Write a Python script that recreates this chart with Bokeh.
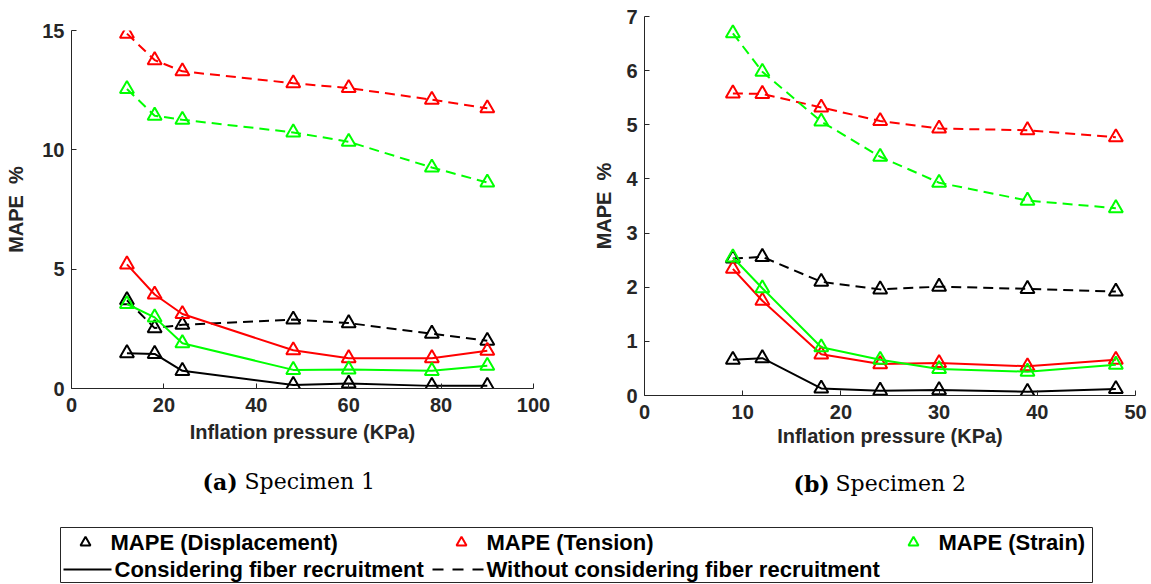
from bokeh.plotting import figure
from bokeh.layouts import column, row
from bokeh.models import FixedTicker
from bokeh.core.properties import value
from bokeh.embed import file_html
from bokeh.resources import INLINE

# ---- Specimen 1 ----
s1_pressure = [12, 18, 24, 48, 60, 78, 90]
s1_disp_fiber = [1.48, 1.45, 0.74, 0.15, 0.21, 0.11, 0.11]
s1_disp_nofiber = [3.70, 2.53, 2.67, 2.89, 2.74, 2.30, 2.00]
s1_tension_fiber = [5.20, 3.94, 3.12, 1.60, 1.27, 1.27, 1.58]
s1_tension_nofiber = [14.87, 13.76, 13.29, 12.79, 12.59, 12.10, 11.74]
s1_strain_fiber = [3.54, 2.98, 1.90, 0.78, 0.80, 0.74, 0.95]
s1_strain_nofiber = [12.55, 11.43, 11.26, 10.73, 10.34, 9.26, 8.63]

# ---- Specimen 2 ----
s2_pressure = [9, 12, 18, 24, 30, 39, 48]
s2_disp_fiber = [0.66, 0.69, 0.13, 0.09, 0.10, 0.07, 0.12]
s2_disp_nofiber = [2.53, 2.56, 2.10, 1.96, 2.01, 1.97, 1.92]
s2_tension_fiber = [2.34, 1.75, 0.76, 0.58, 0.60, 0.54, 0.66]
s2_tension_nofiber = [5.58, 5.57, 5.32, 5.07, 4.93, 4.90, 4.77]
s2_strain_fiber = [2.55, 1.98, 0.89, 0.66, 0.49, 0.44, 0.57]
s2_strain_nofiber = [6.69, 5.98, 5.06, 4.41, 3.93, 3.60, 3.46]

s1_xticks = [0, 20, 40, 60, 80, 100]
s1_yticks = [0, 5, 10, 15]
s2_xticks = [0, 10, 20, 30, 40, 50]
s2_yticks = [0, 1, 2, 3, 4, 5, 6, 7]

quantity_names = ["MAPE (Displacement)", "MAPE (Tension)", "MAPE (Strain)"]
quantity_colors = ["#000000", "#ff0000", "#00ff00"]
model_names = ["Considering fiber recruitment", "Without considering fiber recruitment"]
model_dashes = ["solid", "10 6"]

captions = [("(a)", "Specimen 1"), ("(b)", "Specimen 2")]

SANS = "Liberation Sans"
AXIS_COLOR = "#262626"


def panel(x, curves, x_end, y_end, xticks, yticks, width, height,
          b_left, b_right, b_top, b_bottom, ylab_standoff, xlab_standoff):
    p = figure(width=width, height=height, x_range=(0, x_end), y_range=(0, y_end),
               output_backend="svg", toolbar_location=None,
               min_border_left=b_left, min_border_right=b_right,
               min_border_top=b_top, min_border_bottom=b_bottom)
    p.outline_line_color = None
    p.grid.visible = False
    p.background_fill_color = "white"
    p.border_fill_color = "white"
    for ax in (p.xaxis[0], p.yaxis[0]):
        ax.major_tick_in = 5
        ax.major_tick_out = 0
        ax.minor_tick_in = 0
        ax.minor_tick_out = 0
        ax.axis_line_color = AXIS_COLOR
        ax.major_tick_line_color = AXIS_COLOR
        ax.major_label_text_color = AXIS_COLOR
        ax.major_label_text_font = SANS
        ax.major_label_text_font_style = "bold"
        ax.major_label_text_font_size = "20px"
        ax.axis_label_text_font = SANS
        ax.axis_label_text_font_style = "bold"
        ax.axis_label_text_color = AXIS_COLOR
    p.xaxis.ticker = FixedTicker(ticks=xticks)
    p.yaxis.ticker = FixedTicker(ticks=yticks)
    p.xaxis.major_label_standoff = 9
    p.yaxis.major_label_standoff = 7
    p.xaxis.axis_label = "Inflation pressure (KPa)"
    p.xaxis.axis_label_text_font_size = "20px"
    p.xaxis.axis_label_standoff = xlab_standoff
    p.yaxis.axis_label = "MAPE\u00a0\u00a0%"
    p.yaxis.axis_label_text_font_size = "20px"
    p.yaxis.axis_label_standoff = ylab_standoff

    for ys, color, dash in curves:
        p.line(x, ys, line_color=color, line_width=2, line_dash=dash)
        p.scatter(x, ys, marker="triangle", size=14, fill_color=None,
                  line_color=color, line_width=2)
    return p


solid, dashed = model_dashes
p1 = panel(s1_pressure,
           [(s1_disp_fiber, quantity_colors[0], solid),
            (s1_disp_nofiber, quantity_colors[0], dashed),
            (s1_tension_fiber, quantity_colors[1], solid),
            (s1_tension_nofiber, quantity_colors[1], dashed),
            (s1_strain_fiber, quantity_colors[2], solid),
            (s1_strain_nofiber, quantity_colors[2], dashed)],
           100, 15, s1_xticks, s1_yticks, 590, 450, 71, 57, 30, 62, 12, 6)

p2 = panel(s2_pressure,
           [(s2_disp_fiber, quantity_colors[0], solid),
            (s2_disp_nofiber, quantity_colors[0], dashed),
            (s2_tension_fiber, quantity_colors[1], solid),
            (s2_tension_nofiber, quantity_colors[1], dashed),
            (s2_strain_fiber, quantity_colors[2], solid),
            (s2_strain_nofiber, quantity_colors[2], dashed)],
           50, 7, s2_xticks, s2_yticks, 561, 450, 53, 16, 16, 55, 8, 3)

# ---- captions and shared legend ----
p3 = figure(width=1151, height=134, x_range=(0, 1151), y_range=(0, 134),
            output_backend="svg", toolbar_location=None, min_border=0)
p3.axis.visible = False
p3.grid.visible = False
p3.outline_line_color = None
p3.background_fill_color = "white"
p3.border_fill_color = "white"

cap_x = [202, 793]
p3.text(x=cap_x, y=[103, 101], text=[c[0] for c in captions],
        text_font=value("DejaVu Serif"), text_font_style="bold", text_font_size="22px",
        text_align="left", text_baseline="middle", text_color="black")
p3.text(x=[cx + 42 for cx in cap_x], y=[103, 101], text=[c[1] for c in captions],
        text_font=value("DejaVu Serif"), text_font_size="22px",
        text_align="left", text_baseline="middle", text_color="black")

# legend frame
p3.quad(left=[60], right=[1092], bottom=[2], top=[57], fill_color="white",
        line_color=AXIS_COLOR, line_width=1)

# row 1: quantity markers
mark_x = [85, 461, 913]
row1_y = 42
p3.scatter(mark_x, [row1_y] * 3, marker="triangle", size=10, fill_color=None,
           line_color=quantity_colors, line_width=2)
p3.text(x=[m + 25 for m in mark_x], y=[row1_y] * 3, text=quantity_names,
        text_font=value(SANS), text_font_style="bold", text_font_size="22px",
        text_align="left", text_baseline="middle", text_color="black")

# row 2: line styles
row2_y = 15
seg_x = [(63, 111), (432, 483)]
for (x0, x1), dash in zip(seg_x, model_dashes):
    p3.line([x0, x1], [row2_y, row2_y], line_color="black", line_width=2,
            line_dash=dash if dash == "solid" else "11 9")
p3.text(x=[x1 + 3 for _, x1 in seg_x], y=[row2_y] * 2, text=model_names,
        text_font=value(SANS), text_font_style="bold", text_font_size="22px",
        text_align="left", text_baseline="middle", text_color="black")

layout = column(row(column(p1), column(p2)), p3)
open("out.html", "w").write(file_html(layout, INLINE))
